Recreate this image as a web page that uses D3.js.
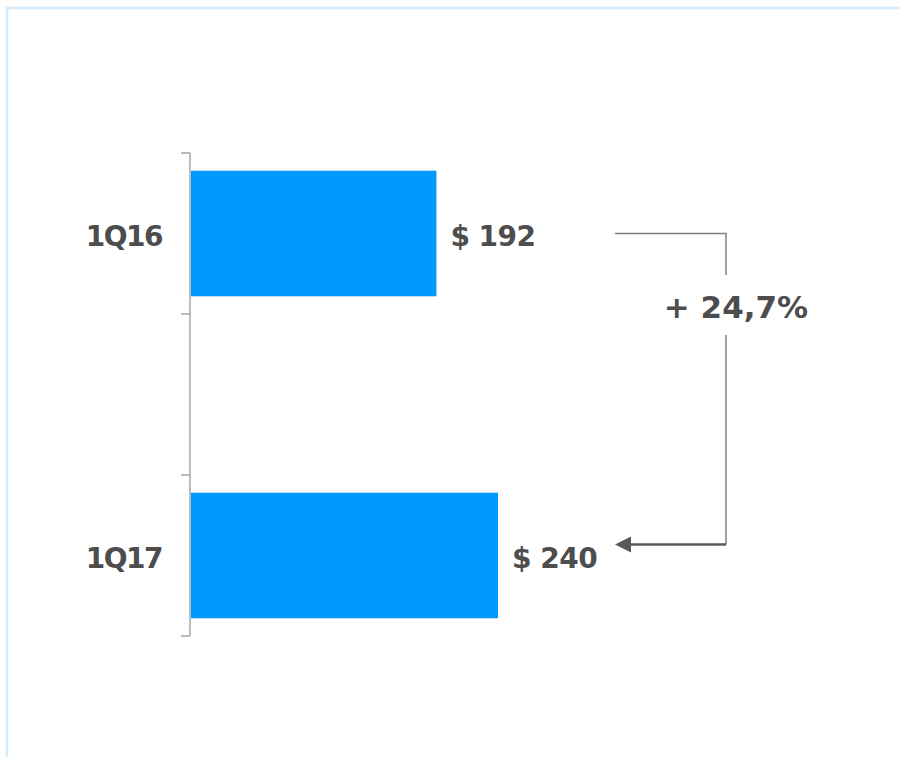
<!DOCTYPE html>
<html>
<head>
<meta charset="utf-8">
<script src="https://cdn.jsdelivr.net/npm/d3@7"></script>
<style>
  body { margin: 0; background: #fff; }
  svg { display: block; }
</style>
</head>
<body>
<div id="chart"></div>
<script>
// Data
const categories = ['1Q16', '', '1Q17']
const values = [192, null, 240]
const valueLabels = ['$ 192', '', '$ 240']
const changeLabel = '+ 24,7%'

const width = 900
const height = 757
const textColor = '#4d4d4d'
const font = '"DejaVu Sans", Verdana, sans-serif'

const svg = d3.select('#chart').append('svg')
    .attr('width', width)
    .attr('height', height)

// Frame lines (top and left)
svg.append('line')
    .attr('x1', 6).attr('x2', width)
    .attr('y1', 8).attr('y2', 8)
    .attr('stroke', '#d5ecfb').attr('stroke-width', 2.5)
svg.append('line')
    .attr('x1', 7).attr('x2', 7)
    .attr('y1', 7).attr('y2', height)
    .attr('stroke', '#d5ecfb').attr('stroke-width', 2.5)

// Scales
const y = d3.scaleBand()
    .domain(categories)
    .range([153, 636])
    .paddingInner(0.22)
    .paddingOuter(0.11)

const x = d3.scaleLinear()
    .domain([0, 240])
    .range([190, 498])

// Axis line with ticks at band boundaries
const step = y.step()
const bounds = d3.range(categories.length + 1).map(i => 153 + i * step)

svg.append('line')
    .attr('x1', x(0)).attr('x2', x(0))
    .attr('y1', bounds[0]).attr('y2', bounds[bounds.length - 1])
    .attr('stroke', '#a6a6a6').attr('stroke-width', 1.5)

svg.selectAll('.tick')
    .data(bounds)
    .join('line')
    .attr('class', 'tick')
    .attr('x1', x(0) - 9).attr('x2', x(0))
    .attr('y1', d => d).attr('y2', d => d)
    .attr('stroke', '#a6a6a6').attr('stroke-width', 1.5)

const rows = categories.map((c, i) => ({cat: c, value: values[i], label: valueLabels[i]}))
    .filter(d => d.value != null)

// Bars
svg.selectAll('.bar')
    .data(rows)
    .join('rect')
    .attr('class', 'bar')
    .attr('x', x(0) + 1)
    .attr('y', d => y(d.cat))
    .attr('width', d => x(d.value) - x(0) - 1)
    .attr('height', y.bandwidth())
    .attr('fill', '#0099ff')

// Category labels
svg.selectAll('.cat')
    .data(rows)
    .join('text')
    .attr('class', 'cat')
    .attr('x', 162)
    .attr('y', d => y(d.cat) + y.bandwidth() / 2 + 12)
    .attr('text-anchor', 'end')
    .attr('font-family', font)
    .attr('font-weight', 'bold')
    .attr('font-size', 28)
    .attr('letter-spacing', -1.5)
    .attr('fill', textColor)
    .text(d => d.cat)

// Value labels
svg.selectAll('.val')
    .data(rows)
    .join('text')
    .attr('class', 'val')
    .attr('x', d => x(d.value) + 14)
    .attr('y', d => y(d.cat) + y.bandwidth() / 2 + 12)
    .attr('font-family', font)
    .attr('font-weight', 'bold')
    .attr('font-size', 28)
    .attr('letter-spacing', -0.5)
    .attr('fill', textColor)
    .text(d => d.label)

// Change annotation
const yTop = y(rows[0].cat) + y.bandwidth() / 2
const yBot = y(rows[1].cat) + y.bandwidth() / 2 - 11
const xStart = 615
const xRight = 726

svg.append('path')
    .attr('d', `M${xStart},${yTop} H${xRight} V275`)
    .attr('fill', 'none')
    .attr('stroke', '#808080').attr('stroke-width', 1.5)

svg.append('path')
    .attr('d', `M${xRight},335 V${yBot}`)
    .attr('fill', 'none')
    .attr('stroke', '#808080').attr('stroke-width', 1.5)

svg.append('path')
    .attr('d', `M${xRight},${yBot} H${xStart + 14}`)
    .attr('fill', 'none')
    .attr('stroke', '#595959').attr('stroke-width', 2.5)

svg.append('path')
    .attr('d', `M${xStart},${yBot} L${xStart + 16},${yBot - 8} L${xStart + 16},${yBot + 8} Z`)
    .attr('fill', '#595959')

svg.append('text')
    .attr('x', 736)
    .attr('y', 318)
    .attr('text-anchor', 'middle')
    .attr('font-family', font)
    .attr('font-weight', 'bold')
    .attr('font-size', 31)
    .attr('fill', textColor)
    .text(changeLabel)
</script>
</body>
</html>
